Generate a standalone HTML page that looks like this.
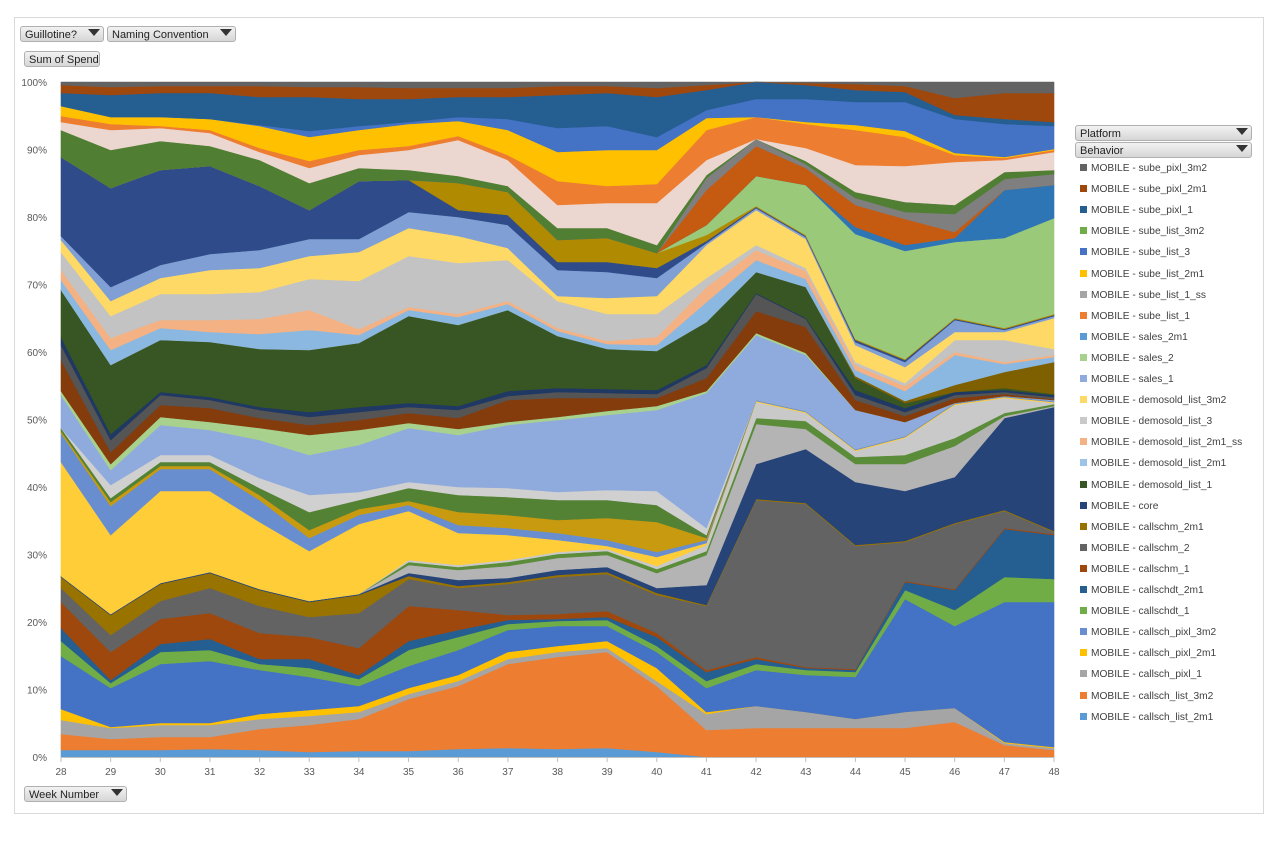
<!DOCTYPE html>
<html><head><meta charset="utf-8">
<style>
body{margin:0;background:#fff;width:1280px;height:848px;overflow:hidden;font-family:"Liberation Sans",sans-serif;}
.frame{position:absolute;left:14px;top:17px;width:1248px;height:795px;border:1px solid #d9d9d9;}
.btn{position:absolute;height:16px;background:linear-gradient(#f2f2f2,#d6d6d6);border:1px solid #b0b0b0;border-radius:3px;font-size:11px;color:#222;line-height:16px;padding-left:4px;box-sizing:border-box;}
.flt{position:absolute;right:3px;top:2px;width:0;height:0;border-left:6px solid transparent;border-right:6px solid transparent;border-top:7px solid #333;}
.lg{position:absolute;left:1080px;font-size:10.2px;color:#404040;white-space:nowrap;}
.lg i{display:inline-block;width:7px;height:7px;margin-right:4px;vertical-align:0px;}
</style></head><body>
<div class="frame"></div>
<div class="btn" style="left:20px;top:26px;width:84px">Guillotine? <span class="flt"></span></div>
<div class="btn" style="left:107px;top:26px;width:129px">Naming Convention <span class="flt"></span></div>
<div class="btn" style="left:24px;top:51px;width:76px">Sum of Spend</div>
<div class="btn" style="left:24px;top:786px;width:103px">Week Number <span class="flt"></span></div>
<div class="btn" style="left:1075px;top:125px;width:177px">Platform <span class="flt"></span></div>
<div class="btn" style="left:1075px;top:142px;width:177px">Behavior <span class="flt"></span></div>
<svg id="c" width="1280" height="848" style="position:absolute;left:0;top:0"></svg>
<div id="leg"></div>
<script>
var X=[];for(var i=0;i<21;i++)X.push(61+i*49.65);
var L=[
["#5b9bd5",[750,750,750,749,750,752,751,751,749,748,749,748,752,757,757,757,757,757,757,757,757]],
["#ed7d31",[734,739,737,737,729,725,719,699,686,664,657,652,686,730,728,728,728,728,722,745,750]],
["#a5a5a5",[720,728,725,725,719,716,712,694,681,659,652,648,681,714,706,712,719,712,708,743,748]],
["#ffc000",[709,727,723,723,714,710,706,688,675,652,646,641,668,712,706,712,719,712,708,742,747]],
["#4472c4",[656,688,664,661,670,677,686,666,650,630,626,626,652,688,670,675,677,599,626,602,602]],
["#70ad47",[641,683,652,650,664,668,679,650,637,624,621,620,646,681,664,670,672,590,610,577,579]],
["#255e91",[628,680,644,639,659,659,675,641,630,620,619,617,637,672,659,668,670,582,590,529,535]],
["#9e480e",[602,652,619,613,633,637,648,606,610,615,614,611,633,670,657,667,669,581,589,528,534]],
["#636363",[588,635,601,588,606,617,613,579,588,584,577,574,595,606,500,504,546,542,524,511,532]],
["#997300",[577,615,584,573,590,602,595,576,586,582,575,572,593,605,499,503,545,541,523,510,531]],
["#264478",[576,614,583,572,589,601,594,573,580,578,570,567,588,585,464,449,482,491,477,418,407]],
["#b4b4b4",[576,614,583,572,589,601,594,565,570,566,558,555,573,555,424,429,464,464,446,416,406]],
["#5b8c3a",[576,614,583,572,589,601,594,562,567,562,554,551,569,551,418,421,457,455,438,413,404]],
["#c9c9c9",[576,614,583,572,589,601,594,560,565,560,552,549,566,545,402,413,451,438,405,398,403]],
["#ffcd38",[462,535,491,491,522,551,524,511,533,535,540,546,557,543,401,412,450,437,404,397,402]],
["#698ed0",[433,506,469,469,500,538,515,505,525,528,533,540,552,540,400,411,449,436,403,396,401]],
["#c89a10",[431,502,466,466,495,530,509,501,512,515,520,518,522,538,400,411,449,436,403,396,401]],
["#548235",[428,498,462,462,488,512,500,488,495,497,500,500,505,535,400,411,449,436,403,396,401]],
["#d0d0d0",[428,485,455,455,478,495,492,482,487,488,492,490,491,528,400,411,449,436,403,396,401]],
["#8faadc",[395,470,425,430,440,455,445,428,435,425,420,415,410,393,335,355,410,422,403,396,400]],
["#a9d18e",[391,464,417,422,428,435,430,423,429,422,417,411,406,391,333,353,410,422,403,396,400]],
["#843c0c",[360,452,405,408,418,425,420,413,418,400,398,398,398,378,311,327,400,416,398,394,399]],
["#555555",[345,440,395,400,410,417,412,407,410,396,392,393,394,368,294,319,395,412,395,392,397]],
["#1f3864",[337,434,392,397,407,412,407,403,406,391,388,389,390,365,293,318,390,408,392,390,395]],
["#375623",[290,365,340,342,349,350,343,316,325,310,336,349,351,322,272,287,378,403,392,388,394]],
["#7f6000",[290,365,340,342,349,350,343,316,325,310,336,349,351,322,272,287,376,401,385,372,362]],
["#8ab8e0",[280,350,328,332,334,330,335,310,317,304,331,344,345,302,260,279,370,391,355,364,357]],
["#f4b183",[270,338,320,320,319,310,329,307,314,301,328,341,337,287,250,271,365,386,352,362,355]],
["#c3c3c3",[252,316,294,294,292,279,281,256,263,260,301,314,314,278,245,268,362,383,340,340,349]],
["#ffd966",[240,301,278,270,268,256,252,228,236,248,296,298,296,245,210,239,345,367,332,332,318]],
["#7f9fd5",[236,287,265,254,250,239,239,212,217,225,270,272,278,243,208,237,342,362,320,330,316]],
["#2f4b89",[157,188,170,166,186,210,181,180,210,215,262,262,268,241,207,236,340,360,319,329,315]],
["#b08a00",[157,188,170,166,186,210,181,180,183,192,240,238,253,235,206,235,339,359,318,328,314]],
["#9bc97a",[157,188,170,166,186,210,181,180,183,192,240,238,253,225,176,185,234,251,242,238,218]],
["#2e75b6",[157,188,170,166,186,210,181,180,183,192,240,238,253,225,176,185,227,245,238,190,185]],
["#c55a11",[157,188,170,166,186,210,181,180,183,192,240,238,253,190,146,168,205,219,232,190,185]],
["#7f7f7f",[157,188,170,166,186,210,181,180,183,192,240,238,253,178,139,164,198,212,214,179,174]],
["#507e32",[130,150,141,146,160,183,168,170,176,186,228,228,245,175,139,161,192,202,205,172,170]],
["#ecd6d0",[122,130,128,133,152,168,155,150,140,160,205,203,203,160,139,148,165,166,162,160,152]],
["#ed7d31",[116,124,126,130,148,161,150,146,136,155,181,186,184,130,117,124,130,137,155,158,150]],
["#ffc000",[106,117,117,119,126,137,130,124,121,130,152,150,150,118,117,122,125,131,153,157,149]],
["#4472c4",[106,117,117,119,125,131,126,122,117,119,128,126,137,110,99,99,102,102,119,124,126]],
["#255e91",[93,95,93,93,97,97,99,99,97,97,95,93,97,90,82,85,90,92,115,119,122]],
["#9e480e",[85,87,86,86,86,87,87,88,88,88,86,86,88,85,82,83,84,86,98,93,93]],
["#636363",[82,82,82,82,82,82,82,82,82,82,82,82,82,82,82,82,82,82,82,82,82]]
];
var s='';var prev=[];for(i=0;i<21;i++)prev.push(757);
L.forEach(function(l){var t=l[1];var p=[];for(var i=0;i<21;i++)p.push(X[i].toFixed(1)+','+t[i]);for(i=20;i>=0;i--)p.push(X[i].toFixed(1)+','+prev[i]);
s+='<polygon points="'+p.join(' ')+'" fill="'+l[0]+'" stroke="'+l[0]+'" stroke-width="0.6"/>';prev=t;});
s+='<line x1="61" y1="757.5" x2="1054" y2="757.5" stroke="#bfbfbf"/>';
for(i=0;i<=10;i++){var y=82+i*67.5;s+='<text x="47" y="'+(y+4)+'" font-size="10" fill="#595959" text-anchor="end" font-family="Liberation Sans">'+(100-i*10)+'%</text>';}
for(i=0;i<21;i++){s+='<line x1="'+X[i]+'" y1="757" x2="'+X[i]+'" y2="762" stroke="#bfbfbf"/><text x="'+X[i]+'" y="775" font-size="10" fill="#595959" text-anchor="middle" font-family="Liberation Sans">'+(28+i)+'</text>';}
document.getElementById('c').innerHTML=s;
var lg=[["sube_pixl_3m2","#636363"],["sube_pixl_2m1","#9e480e"],["sube_pixl_1","#255e91"],["sube_list_3m2","#70ad47"],["sube_list_3","#4472c4"],["sube_list_2m1","#ffc000"],["sube_list_1_ss","#a5a5a5"],["sube_list_1","#ed7d31"],["sales_2m1","#5b9bd5"],["sales_2","#a9d18e"],["sales_1","#8faadc"],["demosold_list_3m2","#ffd966"],["demosold_list_3","#c9c9c9"],["demosold_list_2m1_ss","#f4b183"],["demosold_list_2m1","#9dc3e6"],["demosold_list_1","#375623"],["core","#264478"],["callschm_2m1","#997300"],["callschm_2","#636363"],["callschm_1","#9e480e"],["callschdt_2m1","#255e91"],["callschdt_1","#70ad47"],["callsch_pixl_3m2","#698ed0"],["callsch_pixl_2m1","#ffc000"],["callsch_pixl_1","#a5a5a5"],["callsch_list_3m2","#ed7d31"],["callsch_list_2m1","#5b9bd5"]];
var h='';lg.forEach(function(e,k){h+='<div class="lg" style="top:'+(163+k*21.1).toFixed(1)+'px"><i style="background:'+e[1]+'"></i>MOBILE - '+e[0]+'</div>';});
document.getElementById('leg').innerHTML=h;
</script>
</body></html>
